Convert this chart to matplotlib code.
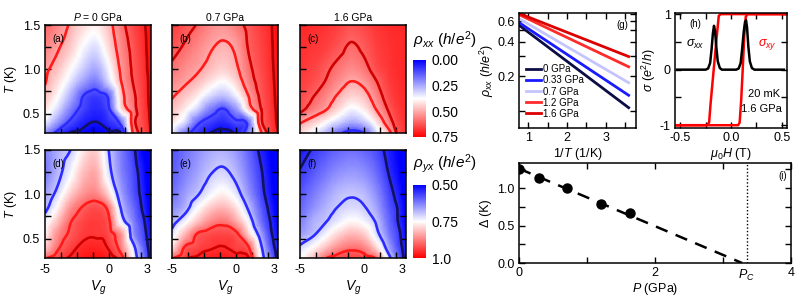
import numpy as np
import matplotlib
matplotlib.use('Agg')
import matplotlib as mpl
import matplotlib.pyplot as plt
import matplotlib.tri as mtri
from matplotlib.ticker import FixedLocator, FixedFormatter, NullFormatter
import matplotlib.transforms as mtransforms

plt.rcParams['font.family'] = ['Liberation Sans', 'DejaVu Sans']
plt.rcParams['mathtext.fontset'] = 'custom'
plt.rcParams['mathtext.rm'] = 'Liberation Sans'
plt.rcParams['mathtext.it'] = 'Liberation Sans:italic'
plt.rcParams['mathtext.bf'] = 'Liberation Sans:bold'
plt.rcParams['axes.unicode_minus'] = False
plt.rcParams['axes.linewidth'] = 1.1

# ---------------- data ----------------
vg = [-5, -4, -3, -2, -1, 0, 1, 2, 2.7, 3.32]
temps = [0.28, 0.4, 0.55, 0.7, 0.85, 1.0, 1.25, 1.5]

# rho_xx (h/e^2), rows = temps, cols = vg
rxx_0 = [
    [0.22, 0.10, 0.025, 0.01, 0.0, 0.015, 0.04, 0.54, 0.63, 0.705],
    [0.35, 0.22, 0.11, 0.05, 0.028, 0.07, 0.17, 0.58, 0.645, 0.71],
    [0.42, 0.32, 0.19, 0.10, 0.06, 0.12, 0.42, 0.575, 0.655, 0.715],
    [0.47, 0.38, 0.26, 0.13, 0.09, 0.15, 0.46, 0.59, 0.66, 0.72],
    [0.505, 0.42, 0.33, 0.23, 0.18, 0.31, 0.50, 0.61, 0.665, 0.72],
    [0.52, 0.46, 0.38, 0.30, 0.25, 0.36, 0.52, 0.62, 0.67, 0.73],
    [0.56, 0.51, 0.45, 0.37, 0.33, 0.43, 0.55, 0.63, 0.68, 0.73],
    [0.60, 0.55, 0.49, 0.43, 0.40, 0.47, 0.575, 0.65, 0.69, 0.73],
]
rxx_07 = [
    [0.35, 0.18, 0.08, 0.03, 0.015, 0.04, 0.20, 0.49, 0.64, 0.70],
    [0.42, 0.32, 0.15, 0.09, 0.06, 0.11, 0.16, 0.58, 0.655, 0.71],
    [0.47, 0.40, 0.31, 0.19, 0.125, 0.22, 0.44, 0.60, 0.665, 0.715],
    [0.51, 0.46, 0.40, 0.32, 0.28, 0.35, 0.50, 0.62, 0.67, 0.72],
    [0.545, 0.51, 0.47, 0.41, 0.37, 0.43, 0.555, 0.63, 0.675, 0.725],
    [0.58, 0.54, 0.51, 0.47, 0.44, 0.48, 0.58, 0.64, 0.68, 0.73],
    [0.63, 0.59, 0.55, 0.51, 0.485, 0.515, 0.605, 0.65, 0.685, 0.735],
    [0.66, 0.63, 0.595, 0.55, 0.535, 0.57, 0.62, 0.66, 0.69, 0.74],
]
rxx_16 = [
    [0.44, 0.36, 0.27, 0.16, 0.09, 0.13, 0.32, 0.47, 0.62, 0.675],
    [0.51, 0.45, 0.38, 0.31, 0.25, 0.29, 0.41, 0.56, 0.645, 0.68],
    [0.625, 0.565, 0.51, 0.43, 0.36, 0.40, 0.505, 0.615, 0.665, 0.685],
    [0.645, 0.605, 0.555, 0.49, 0.44, 0.465, 0.555, 0.645, 0.675, 0.685],
    [0.66, 0.635, 0.595, 0.54, 0.495, 0.52, 0.595, 0.66, 0.68, 0.69],
    [0.67, 0.65, 0.615, 0.575, 0.545, 0.57, 0.635, 0.67, 0.685, 0.69],
    [0.68, 0.67, 0.655, 0.625, 0.59, 0.615, 0.655, 0.675, 0.685, 0.69],
    [0.69, 0.685, 0.675, 0.655, 0.63, 0.645, 0.67, 0.685, 0.69, 0.69],
]
# rho_yx (h/e^2)
ryx_0 = [
    [0.895, 0.93, 0.955, 0.975, 0.985, 0.97, 0.92, 0.74, 0.62, 0.53],
    [0.80, 0.89, 0.935, 0.96, 0.965, 0.945, 0.87, 0.71, 0.60, 0.52],
    [0.76, 0.86, 0.91, 0.94, 0.945, 0.925, 0.85, 0.64, 0.575, 0.51],
    [0.73, 0.81, 0.895, 0.93, 0.94, 0.91, 0.73, 0.62, 0.56, 0.50],
    [0.68, 0.76, 0.855, 0.905, 0.925, 0.88, 0.69, 0.60, 0.54, 0.49],
    [0.655, 0.72, 0.80, 0.855, 0.87, 0.79, 0.66, 0.58, 0.53, 0.48],
    [0.62, 0.68, 0.74, 0.81, 0.83, 0.72, 0.63, 0.57, 0.52, 0.47],
    [0.63, 0.67, 0.70, 0.77, 0.795, 0.70, 0.62, 0.555, 0.50, 0.47],
]
ryx_07 = [
    [0.895, 0.94, 0.955, 0.97, 0.975, 0.965, 0.955, 0.74, 0.62, 0.53],
    [0.78, 0.905, 0.93, 0.945, 0.952, 0.935, 0.905, 0.71, 0.59, 0.52],
    [0.72, 0.82, 0.905, 0.925, 0.93, 0.915, 0.80, 0.66, 0.565, 0.51],
    [0.67, 0.735, 0.805, 0.86, 0.88, 0.835, 0.74, 0.61, 0.55, 0.50],
    [0.635, 0.675, 0.745, 0.80, 0.82, 0.78, 0.69, 0.59, 0.535, 0.49],
    [0.61, 0.655, 0.695, 0.74, 0.765, 0.73, 0.65, 0.57, 0.52, 0.48],
    [0.59, 0.625, 0.66, 0.695, 0.71, 0.68, 0.62, 0.555, 0.51, 0.475],
    [0.58, 0.61, 0.64, 0.665, 0.675, 0.65, 0.60, 0.535, 0.50, 0.47],
]
ryx_16 = [
    [0.74, 0.81, 0.895, 0.925, 0.935, 0.925, 0.89, 0.72, 0.60, 0.53],
    [0.71, 0.755, 0.81, 0.86, 0.885, 0.87, 0.79, 0.66, 0.58, 0.52],
    [0.655, 0.69, 0.74, 0.79, 0.82, 0.80, 0.72, 0.62, 0.565, 0.51],
    [0.625, 0.67, 0.695, 0.73, 0.755, 0.74, 0.69, 0.60, 0.548, 0.50],
    [0.60, 0.64, 0.675, 0.702, 0.715, 0.705, 0.66, 0.585, 0.545, 0.495],
    [0.585, 0.62, 0.655, 0.685, 0.695, 0.685, 0.64, 0.57, 0.53, 0.485],
    [0.555, 0.585, 0.615, 0.64, 0.65, 0.64, 0.605, 0.545, 0.51, 0.475],
    [0.52, 0.555, 0.58, 0.60, 0.61, 0.60, 0.575, 0.53, 0.50, 0.47],
]
rxx_levels = [0.03, 0.13, 0.5, 0.6, 0.7]
ryx_levels = [0.55, 0.70, 0.90, 0.95]
column_titles = [r'$P$ = 0 GPa', '0.7 GPa', '1.6 GPa']

# (g) Arrhenius plot
g_labels = ['0 GPa', '0.33 GPa', '0.7 GPa', '1.2 GPa', '1.6 GPa']
g_invT = [0.78, 3.59]
g_rho_0 = [0.549, 0.106]
g_rho_033 = [0.58, 0.136]
g_rho_07 = [0.629, 0.175]
g_rho_12 = [0.682, 0.241]
g_rho_16 = [0.70, 0.296]

# (h) conductivity hysteresis at 20 mK, 1.6 GPa
h_down = [0.55, 0.0, -0.10, -0.12, -0.14, -0.17, -0.20, -0.215, -0.235, -0.53]
sxy_down = [1.0, 1.0, 1.0, 0.97, 0.6, 0.0, -0.6, -0.95, -1.0, -1.0]
h_up = [-0.53, 0.0, 0.07, 0.085, 0.10, 0.115, 0.13, 0.145, 0.16, 0.55]
sxy_up = [-1.0, -1.0, -1.0, -0.95, -0.55, 0.0, 0.6, 0.95, 1.0, 1.0]
h_xx = [-0.53, -0.25, -0.225, -0.205, -0.19, -0.178, -0.167, -0.157, -0.145, -0.13,
        -0.11, -0.09, 0.05, 0.075, 0.095, 0.11, 0.125, 0.138, 0.148, 0.158, 0.17,
        0.185, 0.205, 0.23, 0.52]
sxx = [0, 0, 0.02, 0.12, 0.38, 0.65, 0.79, 0.70, 0.42, 0.15, 0.03, 0, 0, 0.02, 0.12,
       0.38, 0.68, 0.86, 0.89, 0.75, 0.42, 0.15, 0.03, 0, 0]

# (i) gap vs pressure
P_data = [0.0, 0.30, 0.71, 1.21, 1.63]
gap_data = [1.26, 1.13, 1.0, 0.79, 0.67]
fit_P = [0.0, 3.28]
fit_gap = [1.26, 0.0]
P_C = 3.35

# ---------------- figure ----------------
W, H = 806, 299
fig = plt.figure(figsize=(W / 100, H / 100), dpi=100)


def box(l, t, r, b):
    return [l / W, 1 - b / H, (r - l) / W, (b - t) / H]


navy = '#12125e'
blue = '#2b2bff'
red = '#ff1a1a'
dred = '#d00000'
ddred = '#b00000'

lefts = [(45, 151), (172, 278), (300, 406)]
rows = [((25, 133), [rxx_0, rxx_07, rxx_16], (0, 0.75), rxx_levels,
         [navy, blue, red, dred, ddred], ['(a)', '(b)', '(c)']),
        ((150, 258), [ryx_0, ryx_07, ryx_16], (0.5, 1.0), ryx_levels,
         [navy, blue, red, dred], ['(d)', '(e)', '(f)'])]

X, Y = np.meshgrid(vg, temps)
# triangulation in scaled coordinates (Vg/8.3, T/1.22) so cells are near-square
base_tri = mtri.Triangulation(X.ravel() / 8.32, Y.ravel() / 1.22)
refiner = mtri.UniformTriRefiner(base_tri)

for ri, ((t, b), datas, (vmin, vmax), levels, lcolors, labs) in enumerate(rows):
    for ci, (l, r) in enumerate(lefts):
        ax = fig.add_axes(box(l, t, r, b))
        Z = np.array(datas[ci]).ravel()
        interp = mtri.CubicTriInterpolator(base_tri, Z, kind='geom')
        tri_ref, z_ref = refiner.refine_field(Z, triinterpolator=interp, subdiv=3)
        tri_plot = mtri.Triangulation(tri_ref.x * 8.32, tri_ref.y * 1.22, tri_ref.triangles)
        ax.tripcolor(tri_plot, z_ref, shading='gouraud', cmap='bwr', vmin=vmin, vmax=vmax)
        ax.tricontour(tri_plot, z_ref, levels=levels, colors=lcolors, linewidths=1.9)
        ax.set_xlim(-5, 3.32)
        ax.set_ylim(0.28, 1.5)
        ax.xaxis.remove_overlapping_locs = False
        ax.xaxis.set_major_locator(FixedLocator([-5, 0, 3]))
        ax.xaxis.set_minor_locator(FixedLocator([-3.75, -2.5, -1.25, 0, 1.25, 2.5]))
        ax.yaxis.set_major_locator(FixedLocator([0.5, 1.0, 1.5]))
        ax.yaxis.set_minor_locator(FixedLocator([0.75, 1.25]))
        ax.tick_params(axis='x', which='major', length=0, labelsize=9, pad=4)
        ax.tick_params(axis='x', which='minor', length=4, direction='in', width=1)
        ax.tick_params(axis='y', which='both', length=4, direction='in', width=1,
                       labelsize=9, right=(ri == 1))
        ax.yaxis.set_major_formatter(FixedFormatter(['0.5', '1.0', '1.5']))
        if ci > 0:
            ax.set_yticklabels([])
        else:
            ax.set_ylabel(r'$T$ (K)', fontsize=9, labelpad=3)
        if ri == 0:
            ax.set_xticklabels([])
            ax.set_title(column_titles[ci], fontsize=7.5, pad=3)
        else:
            ax.xaxis.set_major_formatter(FixedFormatter(['-5', '0', '3']))
            ax.set_xlabel(r'$V_g$', fontsize=10, labelpad=2)
        ax.text(0.065, 0.87, labs[ci], transform=ax.transAxes, fontsize=7,
                va='center', ha='left')

# colorbars
cb_specs = [((413, 60, 426, 137), (0, 0.75), [0, 0.25, 0.5, 0.75],
             ['0.00', '0.25', '0.50', '0.75'], r'$\rho_{xx}$ ($h/e^2$)', 40),
            ((413, 185, 426, 258), (0.5, 1.0), [0.5, 0.75, 1.0],
             ['0.50', '0.75', '1.0'], r'$\rho_{yx}$ ($h/e^2$)', 164)]
for pos, (vmin, vmax), ticks, tlabs, title, ty in cb_specs:
    cax = fig.add_axes(box(*pos))
    cb = fig.colorbar(mpl.cm.ScalarMappable(norm=mpl.colors.Normalize(vmin, vmax),
                                            cmap='bwr'), cax=cax)
    cax.invert_yaxis()
    cb.set_ticks(ticks)
    cb.set_ticklabels(tlabs)
    cb.outline.set_visible(False)
    cax.tick_params(length=0, labelsize=10, pad=4)
    fig.text(413 / W, 1 - ty / H, title, fontsize=11, va='center', ha='left')

# (g)
axg = fig.add_axes(box(519, 13, 636, 128))
g_series = [g_rho_0, g_rho_033, g_rho_07, g_rho_12, g_rho_16]
g_colors = ['#0d0d45', '#1a1aff', '#c4c4ff', '#ff2a2a', '#dd0000']
for ys, c, lab in zip(g_series, g_colors, g_labels):
    axg.plot(g_invT, ys, color=c, lw=2, label=lab)
axg.set_yscale('log')
axg.set_ylim(0.0705, 0.71)
axg.set_xlim(0.76, 3.78)
axg.yaxis.set_major_locator(FixedLocator([0.2, 0.4, 0.6]))
axg.yaxis.set_major_formatter(FixedFormatter(['0.2', '0.4', '0.6']))
axg.yaxis.set_minor_locator(FixedLocator([0.1, 0.3, 0.5, 0.7]))
axg.yaxis.set_minor_formatter(NullFormatter())
axg.xaxis.set_major_locator(FixedLocator([1, 2, 3]))
axg.xaxis.set_minor_locator(FixedLocator([1.5, 2.5, 3.5]))
axg.tick_params(which='both', direction='in', top=True, right=True, length=4,
                width=1, labelsize=9, pad=3)
axg.set_xlabel(r'$1/T$ (1/K)', fontsize=9, labelpad=1)
axg.set_ylabel(r'$\rho_{xx}$ ($h/e^2$)', fontsize=9, labelpad=1)
axg.text(0.93, 0.9, '(g)', transform=axg.transAxes, fontsize=7, ha='right', va='center')
axg.legend(loc='lower left', fontsize=7, frameon=False, handlelength=1.6,
           handletextpad=0.2, labelspacing=0.12, borderaxespad=0.3,
           bbox_to_anchor=(0.0, 0.02))

# (h)
axh = fig.add_axes(box(675, 13, 787, 128))
axh.plot(h_down, sxy_down, color='#ff0000', lw=1.8)
axh.plot(h_up, sxy_up, color='#ff0000', lw=1.8)
axh.plot(h_xx, sxx, color='k', lw=1.8)
axh.set_xlim(-0.55, 0.55)
axh.set_ylim(-1.05, 1.02)
axh.xaxis.set_major_locator(FixedLocator([-0.5, 0.0, 0.5]))
axh.xaxis.set_major_formatter(FixedFormatter(['-0.5', '0.0', '0.5']))
axh.xaxis.set_minor_locator(FixedLocator([-0.25, 0.25]))
axh.yaxis.set_major_locator(FixedLocator([-1, 0, 1]))
axh.yaxis.set_major_formatter(FixedFormatter(['-1', '0', '1']))
axh.yaxis.set_minor_locator(FixedLocator([-0.5, 0.5]))
axh.tick_params(which='both', direction='in', top=True, right=True, length=4,
                width=1, labelsize=9, pad=3)
axh.set_xlabel(r'$\mu_0H$ (T)', fontsize=9, labelpad=1)
axh.set_ylabel(r'$\sigma$ ($e^2/h$)', fontsize=9, labelpad=1)
axh.text(-0.41, 0.82, '(h)', fontsize=7, ha='left', va='center')
axh.text(-0.44, 0.46, r'$\sigma_{xx}$', fontsize=9, ha='left', va='center')
axh.text(0.27, 0.46, r'$\sigma_{xy}$', fontsize=9, ha='left', va='center', color='#ff0000')
axh.text(0.48, -0.43, '20 mK', fontsize=8, ha='right', va='center')
axh.text(0.50, -0.70, '1.6 GPa', fontsize=8, ha='right', va='center')

# (i)
axi = fig.add_axes(box(519, 163, 791, 263))
axi.plot(fit_P, fit_gap, color='k', lw=1.8, dashes=(5, 3.5))
axi.plot(P_data, gap_data, 'o', color='k', ms=6.5)
axi.axvline(P_C, color='k', ls=(0, (1, 1.5)), lw=1.0)
axi.set_xlim(0, 4)
axi.set_ylim(0, 1.335)
axi.xaxis.set_major_locator(FixedLocator([0, 1, 2, 3, 4]))
axi.xaxis.set_major_formatter(FixedFormatter(['0', '', '2', '', '4']))
axi.yaxis.set_major_locator(FixedLocator([0.0, 0.5, 1.0]))
axi.yaxis.set_major_formatter(FixedFormatter(['0.0', '0.5', '1.0']))
axi.yaxis.set_minor_locator(FixedLocator([0.25, 0.75, 1.25]))
axi.tick_params(which='both', direction='in', top=True, right=True, length=4,
                width=1, labelsize=9, pad=3)
trans = mtransforms.blended_transform_factory(axi.transData, axi.transAxes)
axi.text(P_C, -0.045, r'$P_C$', transform=trans, fontsize=9, ha='center', va='top')
axi.set_xlabel(r'$P$ (GPa)', fontsize=9, labelpad=1)
axi.set_ylabel('Δ (K)', fontsize=9, labelpad=4)
axi.text(0.985, 0.87, '(i)', transform=axi.transAxes, fontsize=7, ha='right', va='center')

fig.savefig('out.png', dpi=100)
